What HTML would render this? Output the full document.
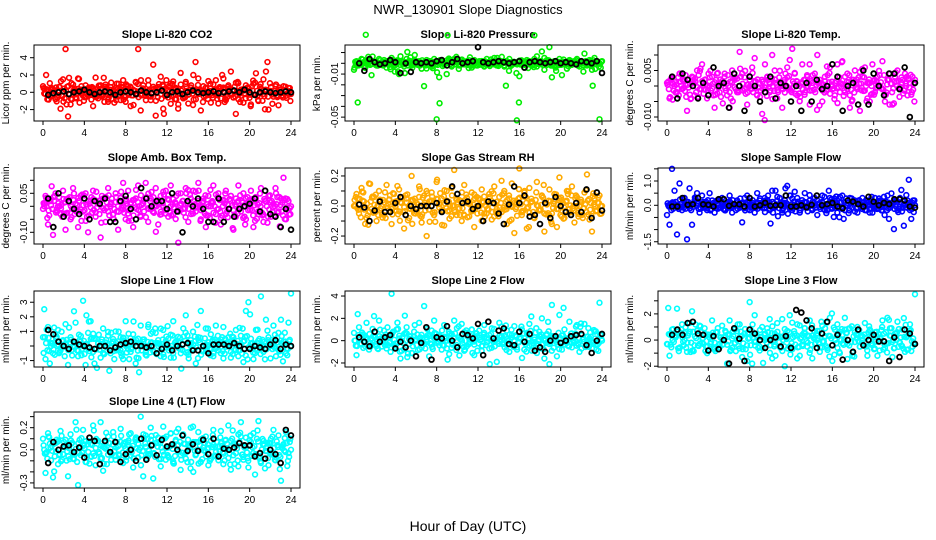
<!DOCTYPE html>
<html><head><meta charset="utf-8"><style>
html,body{margin:0;padding:0;background:#fff}
svg{display:block;font-family:"Liberation Sans",sans-serif}
</style></head><body>
<svg id="c" width="936" height="540" viewBox="0 0 936 540">
<text x="468" y="14" text-anchor="middle" font-size="13">NWR_130901  Slope Diagnostics</text>
<text x="468" y="531" text-anchor="middle" font-size="14">Hour of Day (UTC)</text>
</svg>
<script>
const hourTicks=[0,4,8,12,16,20,24];
const titles=["Slope Li-820 CO2","Slope Li-820 Pressure","Slope Li-820 Temp.","Slope Amb. Box Temp.","Slope Gas Stream RH","Slope Sample Flow","Slope Line 1 Flow","Slope Line 2 Flow","Slope Line 3 Flow","Slope Line 4 (LT) Flow"];
const yTitles=["Licor ppm per min.","kPa per min.","degrees C per min.","degrees C per min.","percent per min.","ml/min per min.","ml/min per min.","ml/min per min.","ml/min per min.","ml/min per min."];
const colors=["#ff0000","#00ee00","#ff00ff","#ff00ff","#ffaa00","#0000ff","#00ffff","#00ffff","#00ffff","#00ffff"];
const yDomains=[[-3.32,5.47],[-0.0536,0.017],[-0.01129,0.01323],[-0.145,0.1473],[-0.253,0.253],[-1.593,1.535],[-1.44,3.77],[-2.36,4.45],[-2.06,3.75],[-0.346,0.342]];
const yTicks=[[-2,0,2,4],[-0.05,-0.04,-0.03,-0.02,-0.01,0,0.01],[-0.01,-0.005,0,0.005,0.01],[-0.1,-0.05,0,0.05,0.1],[-0.2,-0.1,0,0.1,0.2],[-1.5,-1,-0.5,0,0.5,1,1.5],[-1,0,1,2,3],[-2,0,2,4],[-2,-1,0,1,2,3],[-0.3,-0.2,-0.1,0,0.1,0.2,0.3]];
const yTickLabels=[{"-2":"-2","0":"0","2":"2","4":"4"},{"-0.05":"-0.05","-0.01":"-0.01"},{"-0.01":"-0.010","0.005":"0.005"},{"-0.1":"-0.10","0.05":"0.05"},{"-0.2":"-0.2","0":"0.0","0.2":"0.2"},{"-1.5":"-1.5","0":"0.0","1":"1.0"},{"-1":"-1","1":"1","2":"2","3":"3"},{"-2":"-2","0":"0","2":"2","4":"4"},{"-2":"-2","0":"0","2":"2"},{"-0.3":"-0.3","0":"0.0","0.2":"0.2"}];

const co2All=[0.7,-0.2,0.3,-0.5,0.4,-0.8,0.2,-1.9,1.5,5.0,-2.8,-1.4,0.9,-0.6,1.6,0.3,-0.4,0.8,-0.3,0.5,-1.6,1.7,-0.7,0.4,-0.2,0.9,-1.1,0.6,0.2,-0.5,0.4,-0.9,1.4,-1.1,0.7,-1.6,0.3,1.2,5.0,-2.1,0.8,-0.4,1.4,-0.9,3.2,-2.7,0.6,1.8,-1.9,0.4,-0.6,1.0,-0.3,0.5,-1.4,0.9,-0.7,1.2,-1.3,0.3,2.0,-0.8,1.6,-2.1,0.7,-0.4,1.3,-1.2,0.9,1.4,-1.3,0.5,1.6,-0.9,0.4,2.4,-0.6,1.1,-0.8,0.3,-1.2,0.8,0.5,-1.4,1.0,2.2,-1.0,0.4,1.5,2.4,-2.0,0.6,-0.5,0.9,-1.5,0.3,0.7,-0.4,0.5,-0.2];
const co2Hourly=[-0.3,-0.1,0.0,0.1,-0.2,0.0,0.1,0.3,0.0,-0.2,0.0,0.1,0.0,-0.3,0.0,0.1,0.0,-0.2,0.2,0.0,-0.1,0.0,0.2,-0.3,0.0,0.1,-0.2,0.0,0.2,0.0,-0.1,0.0,0.1,-0.1,0.0,0.1,0.2,0.0,0.3,0.0,-0.3,0.0,0.1,0.0,-0.1,0.0,0.1,0.0];
const presAll=[-.006,.002,-.001,.004,-.003,.001,.003,-.011,.002,-.002,.004,-.001,.003,-.004,.001,.005,-.002,.002,-.010,.001,-.003,.004,.000,-.002,.003,-.001,.002,-.005,.001,.003,-.002,.001,.004,-.052,-.013,.002,-.001,-.010,.003,-.003,.001,.004,-.002,.003,-.001,.002,.000,-.004,.003,-.002,.002,.001,-.003,.004,-.001,.002,.005,-.002,.001,.006,-.003,.002,.004,-.001,.000,-.053,-.012,.002,-.004,.003,-.001,.002,.004,-.003,.001,.011,-.006,.003,.015,-.013,.002,-.002,.004,-.011,.001,-.005,.003,-.001,.002,.004,-.003,.001,.009,-.002,.003,-.006,.005,.001,-.052,.002];
const presHourly=[.000,-.007,.004,.001,-.001,.000,.003,.001,-.009,.000,-.008,.001,.000,.001,.000,.002,.003,-.002,.001,.004,.000,.001,.002,.015,.001,.000,.001,.002,.001,.000,.001,.002,-.004,.001,.002,.001,.000,.001,.002,.000,.001,.000,-.001,.002,.001,.000,.002,-.009];
const tempAll=[.001,-.004,.003,.000,-.002,.004,-.001,.002,-.008,.001,.003,-.003,.005,-.001,.007,.002,-.004,.000,.003,-.007,.004,-.002,.001,.003,-.003,-.007,.005,.002,-.002,.011,.004,-.001,-.006,.002,.006,.009,-.003,.001,-.009,-.011,.003,-.002,.010,.005,-.004,.001,-.007,.002,.006,-.001,.012,.004,-.003,.000,.007,-.002,.003,-.006,.001,.004,.010,.002,-.005,.003,-.001,.006,.000,-.003,.007,.001,.008,-.002,.004,-.007,.002,.005,-.001,-.008,.003,.006,-.004,.001,.007,-.002,.003,.000,.008,-.005,.002,.004,-.006,.003,.005,-.001,.002,.004,-.003,.001,.003,.002];
const tempHourly=[.003,-.004,.004,.002,.000,-.004,.001,-.003,.006,.000,.001,-.007,.004,.000,-.008,.003,.000,-.005,-.002,.003,-.004,.001,.000,-.005,.000,-.008,.001,-.005,.002,-.001,.000,.007,.003,-.008,.000,.001,-.006,.005,-.006,.004,.000,-.003,.004,.004,-.001,.006,-.010,.001];
const ambAll=[-.01,.04,-.07,.02,-.11,.05,.00,-.03,.06,-.09,.03,-.05,.07,.01,-.08,.04,-.02,.05,-.10,.02,.06,-.04,.01,-.12,.03,-.06,.07,.00,-.03,.05,-.09,.02,.09,-.05,.06,-.01,-.08,.03,.08,-.04,.01,.09,-.06,.03,-.02,.07,-.07,.04,.00,.06,-.04,.08,-.03,.01,-.14,.05,-.01,.07,-.06,.03,.06,-.02,.09,-.05,.02,-.08,.04,.00,.08,-.03,.05,-.07,.02,.06,-.01,.04,-.09,.03,.08,-.02,.05,-.05,.01,.06,-.08,.03,-.03,.07,-.06,.02,.04,-.04,.01,.05,-.02,.03,.11,-.05,.02,.00];
const ambHourly=[.03,-.08,.05,-.04,.02,-.01,-.03,.03,-.05,.02,.01,.03,-.06,-.06,.02,.04,-.01,-.05,.07,.03,.00,.02,.02,-.01,.05,-.02,-.10,.02,.00,.03,-.01,-.06,-.06,.03,-.06,-.01,-.04,-.01,.00,.01,.03,-.02,.06,-.03,-.04,-.08,-.01,-.09];
const rhAll=[.00,.08,-.05,.12,.03,-.08,.15,-.02,.06,-.10,.10,.00,-.06,.14,.04,-.12,.08,-.03,.11,.02,-.15,.05,-.08,.20,.01,-.04,.13,-.11,.07,-.20,.03,.09,-.06,.16,-.01,.05,-.13,.10,-.03,.12,.24,-.06,.04,-.10,.14,.02,-.07,.09,-.14,.06,.00,.11,-.05,.03,.08,-.09,.13,-.02,.06,-.04,.10,-.12,.05,.15,-.18,.02,.25,-.06,.09,-.15,.12,.03,-.08,.16,-.03,.07,-.17,.01,.11,-.05,.08,-.14,.19,.04,-.08,.10,-.02,.13,-.11,.06,.00,-.06,.09,.21,-.09,-.17,.05,-.03,.07,.00];
const rhHourly=[.01,-.01,-.10,-.03,.03,-.04,-.04,.02,.06,-.06,.00,-.02,.00,.00,.00,.02,-.04,.03,.13,.08,.02,.03,-.02,.00,-.10,.03,.02,-.05,-.12,.01,.13,.02,.07,-.07,-.06,-.12,.02,-.08,.06,.00,-.04,-.06,.02,-.04,.11,-.08,.09,-.03];
const sampAll=[-.4,-.8,1.5,.6,-1.2,.9,-.2,.3,-1.4,.7,-.8,.2,.5,-.3,.4,.1,-.2,.5,.0,-.3,.2,-.1,.3,-.2,.1,.4,-.3,.0,.2,-.1,-.7,.3,.4,-.2,.1,-.3,.5,.2,-.1,.3,.0,-.2,.6,-.1,.2,.3,-.3,.1,.8,.4,-.2,.0,.3,-.3,.1,.5,-.1,.2,-.2,.3,-.4,.1,.4,-.2,.0,.3,-.1,.2,-.3,.1,.4,-.2,.0,.3,-.1,.2,-.3,.1,.3,-.2,.2,.0,-.3,.3,-.1,.2,-.2,.1,.4,-.1,.0,.2,-.2,.3,-.1,.0,.2,-.2,.1,.0];
const sampHourly=[-.05,-.05,.3,.02,.04,.3,.04,.02,-.05,.25,.25,-.02,.05,.04,-.05,.3,-.05,.0,.1,-.02,.0,.0,.4,-.05,-.05,.0,-.08,.02,.4,.0,.05,.1,-.05,-.12,.2,.15,.05,-.05,.35,.15,.0,.1,.05,.25,.25,.2,-.05,-.1];
const l1All=[.6,-.9,1.3,.2,-.5,.8,1.1,-.3,.4,1.5,-1.3,.6,.0,1.6,-.7,.3,3.1,-1.3,.9,1.7,-.4,.5,.2,-.8,1.2,.0,.7,-.5,.3,1.0,-.2,.6,-.9,1.7,.1,-.4,.8,-1.2,.5,1.4,.0,-.6,1.3,.2,-.3,.9,.4,-.7,1.1,-.1,.5,-.8,1.7,.0,.3,-.5,1.2,2.1,-.6,.4,.1,-1.2,.6,2.4,-.3,1.2,.0,.8,-.7,1.4,.3,-.5,1.3,.2,.6,-.8,.4,1.1,-.3,.7,-1.1,2.4,3.0,.5,-.9,1.1,.2,3.4,-.4,1.8,.6,.0,1.4,-.7,.9,1.8,.3,-.5,1.6,3.6];
const l1Hourly=[1.1,.8,.3,.0,-.2,.3,.1,.0,-.1,-.2,.0,.0,-.3,-.1,.1,.2,.3,.0,.0,-.1,.0,-.5,-.2,.1,-.3,.0,.1,.2,-.3,-.3,.0,-.5,.1,.1,.1,.0,.2,.0,-.2,-.2,.0,-.1,-.2,.1,.4,-.2,.1,.0];
const l2All=[.7,-1.3,1.2,-.3,.5,1.6,-.8,.2,2.2,-.5,1.8,-.1,.9,-.7,.3,4.2,-.4,1.0,.2,-.9,.6,1.2,-.3,-1.1,.8,.1,1.6,-.6,3.1,.3,-1.4,.9,1.8,-.2,.5,-.8,1.4,.0,-1.2,.6,1.8,-.4,.3,1.5,-.9,.7,-.2,1.0,-1.3,.4,.9,-.5,1.4,.2,-.7,1.1,.0,-1.9,1.6,.4,-.3,.9,-1.0,.5,1.3,-.6,.2,1.0,-.8,.6,1.5,-.4,.3,-1.1,.8,2.0,-1.6,.5,-2.1,3.2,.4,-1.4,2.3,-.8,1.0,-.2,1.7,-.6,.3,1.4,-1.0,.5,1.5,-.3,.2,-.7,.8,-.4,3.4,.0];
const l2Hourly=[.3,-.1,-.5,.8,-.1,.3,.5,-.7,-.1,-.6,.0,-1.4,-.2,1.2,-1.7,.3,.2,1.3,.0,-.6,.6,.5,.2,1.5,-1.3,1.7,.2,.9,1.1,-.3,-.4,.8,-.1,.6,-.9,-.6,-1.0,.0,.4,-.2,.0,.4,.5,.6,-.4,-1.1,.0,.6];
const l3All=[-.3,-1.2,.8,.3,2.4,-.6,1.2,.0,-.9,1.3,2.2,-.4,.7,1.1,-.2,.9,-1.0,.4,1.5,-.7,.6,-.3,1.1,.2,-1.8,1.5,-.6,.8,.0,1.2,-1.3,.5,-1.6,2.9,-1.8,1.9,.3,-.8,1.0,.0,.9,1.6,-1.4,.5,1.3,-.5,1.6,-2.0,.7,1.9,-.7,.3,1.2,-1.2,.4,.9,-.5,1.5,-1.4,.2,.7,-.9,1.1,.3,-.6,1.7,-1.6,.8,1.2,-1.0,.4,1.7,-.3,.9,-1.2,.6,1.0,-.5,.3,1.3,-1.2,.8,-.4,.6,-1.2,.2,1.5,-.6,1.7,.9,-1.3,.5,1.4,-.2,.8,-.9,.3,1.2,-.5,3.5];
const l3Hourly=[.4,.8,.4,1.3,1.4,.5,.4,-.8,.3,-.7,.0,-1.8,.9,.1,-1.6,.8,.5,.0,-.6,.0,.2,-.5,.3,-.6,2.3,2.1,1.5,.9,-.6,.5,1.4,-.4,.4,-1.5,.0,-.9,.8,-.4,.0,.4,-.1,-.1,-1.6,.2,-1.3,.8,.5,-.3];
const l4All=[.10,-.21,.15,.02,-.25,.06,-.13,.17,-.04,.09,-.24,.14,-.08,.25,-.32,.03,.18,-.11,.05,-.06,.22,-.14,.08,.25,-.19,.01,.12,-.03,.16,-.09,.04,.19,-.12,.07,-.02,.15,-.16,.10,-.07,.30,-.24,.13,-.04,.20,-.26,.06,.11,-.15,.21,-.09,.02,.15,-.12,.09,.19,-.05,.13,-.08,.04,.20,-.20,.07,.16,-.11,.02,.12,-.14,.08,.18,-.06,.03,.17,-.13,.09,.22,-.18,.05,-.03,.14,.25,-.09,.11,-.16,.07,.15,-.04,.26,-.12,.08,.02,-.14,.10,.18,-.07,.13,-.28,.05,.16,-.03,.00];
const l4Hourly=[-.12,.07,.0,.03,.04,-.02,.02,-.07,.11,.08,-.13,.08,-.02,.07,-.11,-.04,.0,-.1,.10,-.09,.04,-.05,.09,.03,.05,.0,.13,-.01,.05,-.01,.09,-.04,.10,-.06,.01,.0,.02,.06,.04,.04,-.06,-.03,-.08,.0,-.04,-.12,.18,.13];

const allSeries=[co2All,presAll,tempAll,ambAll,rhAll,sampAll,l1All,l2All,l3All,l4All];
const hourlySeries=[co2Hourly,presHourly,tempHourly,ambHourly,rhHourly,sampHourly,l1Hourly,l2Hourly,l3Hourly,l4Hourly];

const NS="http://www.w3.org/2000/svg";
const svg=document.getElementById('c');
function mk(tag,attrs,parent){const e=document.createElementNS(NS,tag);for(const k in attrs)e.setAttribute(k,attrs[k]);parent.appendChild(e);return e;}
const colLeft=[34,345,658],boxW=266;
const rowTop=[45,168,291,412],boxH=76;
for(let p=0;p<10;p++){
  const col=p%3,row=Math.floor(p/3);
  const L=colLeft[col],T=rowTop[row],R=L+boxW,B=T+boxH;
  const g=mk('g',{},svg);
  
  
  const x0=L+9,x24=R-9;
  const xs=h=>x0+(x24-x0)*h/24;
  const [dmin,dmax]=yDomains[p];
  const ys=v=>B-(v-dmin)/(dmax-dmin)*boxH;
  const t=mk('text',{x:(L+R)/2,y:T-7,'text-anchor':'middle','font-size':'11','font-weight':'bold'},g);
  t.textContent=titles[p];
  
  
  const yt=mk('text',{transform:`translate(${L-25},${(T+B)/2}) rotate(-90)`,'text-anchor':'middle','font-size':'10'},g);
  yt.textContent=yTitles[p];
  
  
  const xa=mk('g',{},g);
  
  
  hourTicks.forEach(h=>{
    mk('line',{x1:xs(h),x2:xs(h),y1:B,y2:B+4,stroke:'#000','stroke-width':1},xa);
    const tl=mk('text',{x:xs(h),y:B+15,'text-anchor':'middle','font-size':'10'},xa);
    tl.textContent=h;
    
    
  });
  const ya=mk('g',{},g);
  
  
  yTicks[p].forEach(v=>{
    mk('line',{x1:L-4,x2:L,y1:ys(v),y2:ys(v),stroke:'#000','stroke-width':1},ya);
    const lab=yTickLabels[p][String(v)];
    if(lab){
      const tl=mk('text',{transform:`translate(${L-7},${ys(v)}) rotate(-90)`,'text-anchor':'middle','font-size':'10'},ya);
      tl.textContent=lab;
      
      
    }
  });
  const pts=mk('g',{fill:'none',stroke:colors[p],'stroke-width':1.6},g);
  
  
  const a=allSeries[p],n=a.length;
  a.forEach((v,i)=>{
    const c=mk('circle',{cx:xs(i*24/(n-1)),cy:ys(v),r:2.4},pts);
    
    
    const c2=mk('circle',{cx:xs((i+0.5)*24/n),cy:ys(a[n-1-i]*0.7),r:2.4},pts);
    
    
    const c3=mk('circle',{cx:xs((i+0.25)*24/n),cy:ys(a[(i+37)%n]*0.4),r:2.4},pts);
    
    
    const c4=mk('circle',{cx:xs((i+0.75)*24/n),cy:ys(-a[(i+61)%n]*0.5),r:2.4},pts);
    
    
  });
  const bp=mk('g',{fill:'none',stroke:'#000','stroke-width':1.8},g);
  
  
  const hb=hourlySeries[p],m=hb.length;
  hb.forEach((v,i)=>{
    const c=mk('circle',{cx:xs(0.5+i*23.5/(m-1)),cy:ys(v),r:2.4},bp);
    
    
  });
  const box=mk('rect',{x:L,y:T,width:boxW,height:boxH,fill:'none',stroke:'#000','stroke-width':1},g);
  
  
}
</script>
</body></html>
